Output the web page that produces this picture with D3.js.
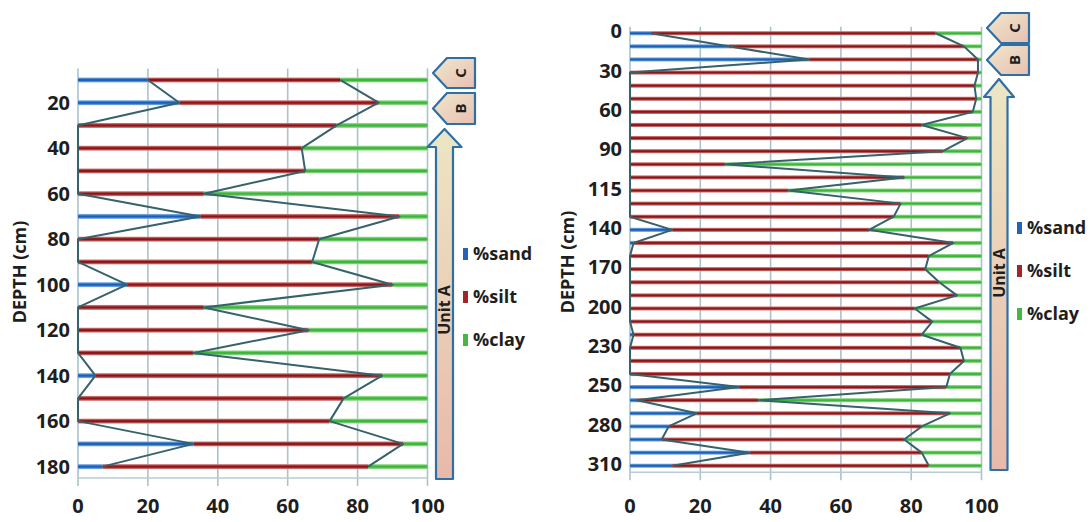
<!DOCTYPE html>
<html>
<head>
<meta charset="utf-8">
<script src="https://cdn.jsdelivr.net/npm/d3@7"></script>
<style>
	body { margin: 0; background: #fff; }
	svg text { font-family: "Open Sans", "DejaVu Sans", sans-serif; font-weight: 700; fill: #1e1e1e; }
</style>
</head>
<body>
<svg id="chart" width="1092" height="522"></svg>
<script>
"use strict";

// left core: depth categories (cm) and grain size percentages
var left_depths = [10, 20, 30, 40, 50, 60, 70, 80, 90, 100, 110, 120, 130, 140, 150, 160, 170, 180];
var left_ticks = [20, 40, 60, 80, 100, 120, 140, 160, 180];
var left_sand = [20, 29, 0, 0, 0, 0, 35, 0, 0, 14, 0, 0, 0, 5, 0, 0, 33, 7];
var left_silt = [55, 57, 74, 64, 65, 36, 57, 69, 67, 76, 36, 66, 33, 82, 76, 72, 60, 76];
var left_clay = [25, 14, 26, 36, 35, 64, 8, 31, 33, 10, 64, 34, 67, 13, 24, 28, 7, 17];

// right core
var right_depths = [0, 10, 20, 30, 40, 50, 60, 70, 80, 90, 100, 107, 115, 123, 132, 140, 150, 160, 170,
	180, 190, 200, 210, 220, 230, 237, 243, 250, 260, 270, 280, 290, 300, 310];
var right_ticks = [0, 30, 60, 90, 115, 140, 170, 200, 230, 250, 280, 310];
var right_sand = [6, 28, 51, 0, 0, 0, 0, 0, 0, 0, 0, 0, 0, 0, 0, 12, 1, 0, 0,
	0, 0, 0, 0, 1, 0, 0, 0, 31, 2, 19, 11, 9, 34, 12];
var right_silt = [81, 67, 48, 99, 98, 98.5, 97.5, 83, 96, 89, 27, 78, 45, 77, 75, 56, 91, 85, 84,
	88, 93, 81, 86, 82, 94, 95, 91, 59, 34.5, 72, 72, 69, 49, 73];
var right_clay = [13, 5, 1, 1, 2, 1.5, 2.5, 17, 4, 11, 73, 22, 55, 23, 25, 32, 8, 15, 16,
	12, 7, 19, 14, 17, 6, 5, 9, 10, 63.5, 9, 17, 22, 17, 15];

var x_ticks = [0, 20, 40, 60, 80, 100];
var legend_names = ["%sand", "%silt", "%clay"];
var unit_names = ["C", "B", "Unit A"];

var svg = d3.select("#chart");
var defs = svg.append("defs");

function bar_gradient(id, edge, mid) {
	var g = defs.append("linearGradient").attr("id", id)
		.attr("x1", 0).attr("y1", 0).attr("x2", 0).attr("y2", 1);
	g.append("stop").attr("offset", "0%").attr("stop-color", edge);
	g.append("stop").attr("offset", "40%").attr("stop-color", mid);
	g.append("stop").attr("offset", "60%").attr("stop-color", mid);
	g.append("stop").attr("offset", "100%").attr("stop-color", edge);
}
bar_gradient("g-sand", "#8cbbea", "#1d5fb8");
bar_gradient("g-silt", "#dc8f8f", "#8a1618");
bar_gradient("g-clay", "#a8e2a0", "#3cb53a");

var fill_grad = defs.append("linearGradient").attr("id", "g-unit")
	.attr("x1", 0).attr("y1", 0).attr("x2", 0).attr("y2", 1);
fill_grad.append("stop").attr("offset", "0%").attr("stop-color", "#ece6c4");
fill_grad.append("stop").attr("offset", "100%").attr("stop-color", "#e8b9ab");
var tag_grad = defs.append("linearGradient").attr("id", "g-tag")
	.attr("x1", 0).attr("y1", 0).attr("x2", 1).attr("y2", 1);
tag_grad.append("stop").attr("offset", "0%").attr("stop-color", "#efe8cc");
tag_grad.append("stop").attr("offset", "100%").attr("stop-color", "#e8bfb2");

var colors = { sand: "#2563b8", silt: "#a1252a", clay: "#43b843" };

function draw_panel(p) {
	var x = d3.scaleLinear().domain([0, 100]).range([p.x0, p.x1]);
	var y = d3.scaleBand().domain(p.depths).range([p.y0, p.y1]);
	var g = svg.append("g");

	// vertical grid
	g.selectAll(".grid").data(x_ticks).enter().append("line")
		.attr("x1", function(d) { return x(d); })
		.attr("x2", function(d) { return x(d); })
		.attr("y1", p.y0).attr("y2", p.y1 + 8)
		.attr("stroke", "#a9c3cb").attr("stroke-width", 1.6);
	g.append("line")
		.attr("x1", x(0)).attr("x2", x(100))
		.attr("y1", p.y1).attr("y2", p.y1)
		.attr("stroke", "#b7ccd2").attr("stroke-width", 1.6);

	var rows = p.depths.map(function(d, i) {
		return { depth: d, sand: p.sand[i], silt: p.silt[i], clay: p.clay[i] };
	});
	var h = p.bar_h;
	var row = g.selectAll(".row").data(rows).enter().append("g")
		.attr("transform", function(d) { return "translate(0," + (y(d.depth) + y.bandwidth() / 2 - h / 2) + ")"; });
	row.append("rect")
		.attr("x", x(0))
		.attr("width", function(d) { return x(d.sand) - x(0); })
		.attr("height", h).attr("fill", "url(#g-sand)");
	row.append("rect")
		.attr("x", function(d) { return x(d.sand); })
		.attr("width", function(d) { return x(d.sand + d.silt) - x(d.sand); })
		.attr("height", h).attr("fill", "url(#g-silt)");
	row.append("rect")
		.attr("x", function(d) { return x(d.sand + d.silt); })
		.attr("width", function(d) { return x(100) - x(d.sand + d.silt); })
		.attr("height", h).attr("fill", "url(#g-clay)");

	// boundary lines
	var mid = function(d) { return y(d.depth) + y.bandwidth() / 2; };
	var line_sand = d3.line().x(function(d) { return x(d.sand); }).y(mid);
	var line_silt = d3.line().x(function(d) { return x(d.sand + d.silt); }).y(mid);
	[line_sand, line_silt].forEach(function(l) {
		g.append("path").attr("d", l(rows))
			.attr("fill", "none").attr("stroke", "#36626b").attr("stroke-width", 2)
			.attr("stroke-linejoin", "round");
	});

	// axes labels
	g.selectAll(".ytick").data(p.ticks).enter().append("text")
		.attr("x", p.x0 - 8)
		.attr("y", function(d) { return y(d) + y.bandwidth() / 2 + p.label_dy; })
		.attr("dy", "0.36em").attr("text-anchor", "end")
		.style("font-size", "20px")
		.text(function(d) { return d; });
	g.selectAll(".xtick").data(x_ticks).enter().append("text")
		.attr("x", function(d) { return x(d); })
		.attr("y", 506).attr("dy", "0.36em").attr("text-anchor", "middle")
		.style("font-size", "20px")
		.text(function(d) { return d; });
	g.append("text")
		.attr("transform", "translate(" + p.title_x + "," + p.title_y + ") rotate(-90)")
		.attr("dy", "0.36em").attr("text-anchor", "middle")
		.style("font-size", "18px")
		.text("DEPTH (cm)");

	// legend
	var lg = g.selectAll(".legend").data(legend_names).enter().append("g")
		.attr("transform", function(d, i) { return "translate(" + p.legend_x + "," + (p.legend_y + i * p.legend_step) + ")"; });
	lg.append("rect").attr("x", 0).attr("y", -6).attr("width", 5).attr("height", 12)
		.attr("fill", function(d, i) { return [colors.sand, colors.silt, colors.clay][i]; });
	lg.append("text").attr("x", 10).attr("dy", "0.36em")
		.style("font-size", "18px")
		.text(function(d) { return d; });

	// unit tags C and B
	p.tags.forEach(function(t, i) {
		var tip = t.x, sh = t.x + 14, r = t.x + 42;
		var path = "M" + tip + "," + (t.y0 + t.y1) / 2 + " L" + sh + "," + t.y0 + " L" + r + "," + t.y0 +
			" L" + r + "," + t.y1 + " L" + sh + "," + t.y1 + " Z";
		g.append("path").attr("d", path)
			.attr("fill", "url(#g-tag)").attr("stroke", "#2e70a6").attr("stroke-width", 2.2)
			.attr("stroke-linejoin", "round");
		g.append("text")
			.attr("transform", "translate(" + (tip + 28) + "," + (t.y0 + t.y1) / 2 + ") rotate(-90)")
			.attr("dy", "0.36em").attr("text-anchor", "middle")
			.style("font-size", "15px")
			.text(unit_names[i]);
	});

	// Unit A arrow
	var a = p.arrow;
	var arrow = "M" + a.cx + "," + a.top +
		" L" + (a.cx + a.head) + "," + (a.top + 18) +
		" L" + (a.cx + a.shaft) + "," + (a.top + 18) +
		" L" + (a.cx + a.shaft) + "," + a.bottom +
		" L" + (a.cx - a.shaft) + "," + a.bottom +
		" L" + (a.cx - a.shaft) + "," + (a.top + 18) +
		" L" + (a.cx - a.head) + "," + (a.top + 18) + " Z";
	g.append("path").attr("d", arrow)
		.attr("fill", "url(#g-unit)").attr("stroke", "#2e70a6").attr("stroke-width", 2.2)
		.attr("stroke-linejoin", "round");
	g.append("text")
		.attr("transform", "translate(" + a.cx + "," + a.label_y + ") rotate(-90)")
		.attr("dy", "0.36em").attr("text-anchor", "middle")
		.style("font-size", "16px")
		.text(unit_names[2]);
}

draw_panel({
	depths: left_depths, ticks: left_ticks, sand: left_sand, silt: left_silt, clay: left_clay,
	x0: 78, x1: 427.5, y0: 68.6, y1: 478, bar_h: 5, label_dy: 0,
	title_x: 20, title_y: 272,
	legend_x: 463, legend_y: 254, legend_step: 43,
	tags: [{ x: 433, y0: 58, y1: 88 }, { x: 433, y0: 93, y1: 124 }],
	arrow: { cx: 444.5, top: 129, head: 17, shaft: 8.5, bottom: 479, label_y: 310 }
});

draw_panel({
	depths: right_depths, ticks: right_ticks, sand: right_sand, silt: right_silt, clay: right_clay,
	x0: 630, x1: 981.5, y0: 26.7, y1: 472.3, bar_h: 4.2, label_dy: -2,
	title_x: 568, title_y: 262,
	legend_x: 1017, legend_y: 228, legend_step: 43,
	tags: [{ x: 987, y0: 13, y1: 43 }, { x: 987, y0: 45, y1: 75 }],
	arrow: { cx: 999, top: 79, head: 15, shaft: 8.5, bottom: 470, label_y: 273 }
});
</script>
</body>
</html>
